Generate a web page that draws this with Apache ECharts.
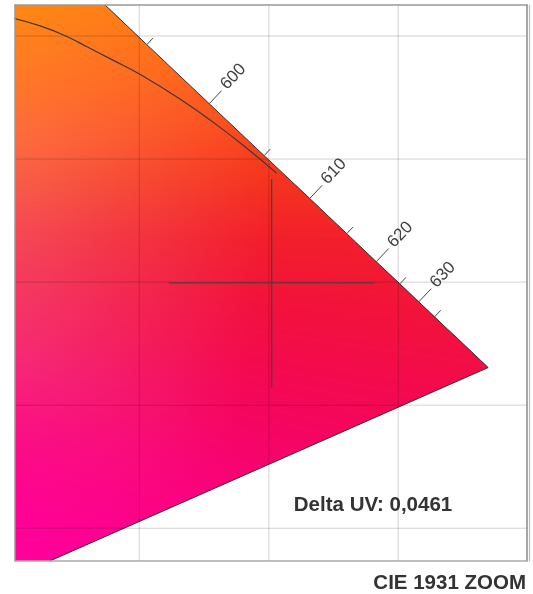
<!DOCTYPE html>
<html><head><meta charset="utf-8">
<script src="https://cdn.jsdelivr.net/npm/echarts@6/dist/echarts.min.js"></script>
<style>html,body{margin:0;padding:0;background:#fff}#c{width:533px;height:594px}</style>
</head><body><div id="c"></div>
<script>
// ---- data ----
// CIE 1931 2° spectral locus (nm, x, y); 380 closes the line of purples
const locusNm = [500, 520, 540, 560, 570, 580, 585, 590, 595, 600, 605, 610, 615, 620, 625, 630, 635, 640, 645, 650, 655, 660, 665, 670, 680, 690, 700, 380];
const locusX  = [0.0082, 0.0743, 0.2296, 0.3731, 0.4441, 0.5125, 0.5448, 0.5752, 0.6029, 0.6270, 0.6482, 0.6658, 0.6801, 0.6915, 0.7006, 0.7079, 0.7140, 0.7190, 0.7230, 0.7260, 0.7283, 0.7300, 0.7311, 0.7320, 0.7334, 0.7344, 0.7347, 0.1741];
const locusY  = [0.5384, 0.8338, 0.7543, 0.6245, 0.5547, 0.4866, 0.4544, 0.4242, 0.3965, 0.3725, 0.3514, 0.3340, 0.3197, 0.3083, 0.2993, 0.2920, 0.2859, 0.2809, 0.2770, 0.2740, 0.2717, 0.2700, 0.2689, 0.2680, 0.2666, 0.2656, 0.2653, 0.0050];
const tickNm  = [595, 600, 605, 610, 615, 620, 625, 630, 635];
const labelNm = [600, 610, 620, 630];
// Planckian locus
const planckX = [0.6530, 0.6427, 0.6300, 0.6157, 0.6002, 0.5900, 0.5800, 0.5720, 0.5620, 0.5500];
const planckY = [0.3443, 0.3534, 0.3638, 0.3744, 0.3845, 0.3901, 0.3955, 0.3998, 0.4040, 0.4076];
// measured point + crosshair
const pointX = 0.6511, pointY = 0.2997;
const crossX = [0.6114, 0.6908];
const crossY = [0.2570, 0.3418];
const deltaUV = '0,0461';
// axes / grid
const xRange = [0.5520, 0.7497];
const yRange = [0.1867, 0.4126];
const gridX = [0.60, 0.65, 0.70];
const gridY = [0.20, 0.25, 0.30, 0.35, 0.40];
const whitePoint = [0.3127, 0.3290];

// ---- style tables (colour of the diagram by direction seen from the white point) ----
const hueDeg   = [-22, -18, -14, -10, -6, -2, 2, 6, 10, 14, 18, 22, 26, 30];
const hueCol   = ['#ff8c0a', '#ff840e', '#ff7412', '#ff6216', '#fb4c1a', '#f5341f', '#f21e2c', '#f2123c', '#f30a4e', '#f50562', '#f90276', '#fc0086', '#ff0094', '#ff009e'];
const hueWhite = [0.02, 0.03, 0.06, 0.10, 0.15, 0.17, 0.17, 0.16, 0.15, 0.13, 0.08, 0.04, 0.01, 0];

const FONT = '"Liberation Sans", Arial, Helvetica, sans-serif';
const chart = echarts.init(document.getElementById('c'), null, {renderer: 'canvas'});

function hex(h) { return [parseInt(h.slice(1, 3), 16), parseInt(h.slice(3, 5), 16), parseInt(h.slice(5, 7), 16)]; }
function lookup(deg) {
  let i = 0;
  if (deg <= hueDeg[0]) return {c: hex(hueCol[0]), w: hueWhite[0]};
  if (deg >= hueDeg[hueDeg.length - 1]) return {c: hex(hueCol[hueCol.length - 1]), w: hueWhite[hueWhite.length - 1]};
  while (hueDeg[i + 1] < deg) i++;
  const t = (deg - hueDeg[i]) / (hueDeg[i + 1] - hueDeg[i]);
  const a = hex(hueCol[i]), b = hex(hueCol[i + 1]);
  return {c: a.map((v, k) => v + (b[k] - v) * t), w: hueWhite[i] + (hueWhite[i + 1] - hueWhite[i]) * t};
}
function mix(c, w) {
  return 'rgb(' + c.map(v => Math.round(v + (255 - v) * w)).join(',') + ')';
}

function fillItem(params, api) {
  const pts = locusX.map((x, i) => api.coord([x, locusY[i]]));
  const cs = params.coordSys;
  const W = api.coord(whitePoint);
  const corners = [[cs.x, cs.y], [cs.x + cs.width, cs.y], [cs.x, cs.y + cs.height], [cs.x + cs.width, cs.y + cs.height]];
  let amin = Infinity, amax = -Infinity, dmax = 0;
  corners.forEach(c => {
    const a = Math.atan2(c[1] - W[1], c[0] - W[0]);
    amin = Math.min(amin, a); amax = Math.max(amax, a);
    dmax = Math.max(dmax, Math.hypot(c[0] - W[0], c[1] - W[1]));
  });
  const R = dmax * 1.05;
  const dl = cs.x - W[0];
  const step = 0.25 * Math.PI / 180;
  const wedges = [];
  for (let a = amin - 2 * step; a < amax + 2 * step; a += step) {
    const deg = (a + step / 2) * 180 / Math.PI;
    const h = lookup(deg);
    const a1 = a + step * 1.7;
    const far = 2 * R;
    wedges.push({
      type: 'polygon',
      shape: {points: [W, [W[0] + far * Math.cos(a), W[1] + far * Math.sin(a)], [W[0] + far * Math.cos(a1), W[1] + far * Math.sin(a1)]]},
      style: {fill: {
        type: 'radial', global: true, x: W[0], y: W[1], r: R,
        colorStops: [
          {offset: 0, color: mix(h.c, Math.min(1, h.w * 3))},
          {offset: dl * 0.9 / R, color: mix(h.c, h.w * 1.3)},
          {offset: dl * 1.05 / R, color: mix(h.c, h.w)},
          {offset: dl * 1.4 / R, color: mix(h.c, 0)},
          {offset: 1, color: mix(h.c, 0)}
        ]
      }}
    });
  }
  return {
    type: 'group',
    children: [
      {type: 'group', clipPath: {type: 'polygon', shape: {points: pts}}, children: wedges},
      {type: 'polygon', shape: {points: pts}, style: {fill: null, stroke: '#333', lineWidth: 1}}
    ]
  };
}

function gridItem(params, api) {
  const cs = params.coordSys;
  const children = [];
  gridX.forEach(v => {
    const p = api.coord([v, yRange[0]]);
    children.push({type: 'line', shape: {x1: p[0], y1: cs.y, x2: p[0], y2: cs.y + cs.height},
      style: {stroke: 'rgba(0,0,0,0.15)', lineWidth: 1.2}});
  });
  gridY.forEach(v => {
    const p = api.coord([xRange[0], v]);
    children.push({type: 'line', shape: {x1: cs.x, y1: p[1], x2: cs.x + cs.width, y2: p[1]},
      style: {stroke: 'rgba(0,0,0,0.18)', lineWidth: 1}});
  });
  return {type: 'group', children};
}

function tickItem(params, api) {
  const nm = api.value(2);
  const i = locusNm.indexOf(nm);
  const p = api.coord([locusX[i], locusY[i]]);
  const a = api.coord([locusX[i - 1], locusY[i - 1]]);
  const b = api.coord([locusX[i + 1], locusY[i + 1]]);
  let tx = b[0] - a[0], ty = b[1] - a[1];
  const L = Math.hypot(tx, ty); tx /= L; ty /= L;
  const nx = ty, ny = -tx;
  const major = labelNm.indexOf(nm) >= 0;
  const len = major ? 18 : 9;
  const children = [{type: 'line', shape: {x1: p[0], y1: p[1], x2: p[0] + nx * len, y2: p[1] + ny * len},
    style: {stroke: '#444', lineWidth: 1}}];
  if (major) {
    const g = len + 4;
    children.push({type: 'text', x: p[0] + nx * g - tx * 1, y: p[1] + ny * g - ty * 1,
      rotation: Math.atan2(-ny, nx),
      style: {text: String(nm), fontSize: 17, fontFamily: FONT, fill: '#404040', align: 'left', verticalAlign: 'middle'}});
  }
  return {type: 'group', children};
}

const axisCommon = {type: 'value', min: xRange[0], max: xRange[1], axisTick: {show: false}, axisLabel: {show: false}, splitLine: {show: false}, z: 8};
const yCommon = {type: 'value', min: yRange[0], max: yRange[1], axisTick: {show: false}, axisLabel: {show: false}, splitLine: {show: false}, z: 8};

const option = {
  animation: false,
  title: {text: 'CIE 1931 ZOOM', right: 7, top: 573, padding: 0,
    textStyle: {fontSize: 20.5, fontWeight: 'bold', color: '#333', fontFamily: FONT}},
  grid: {left: 15, right: 6, top: 5, bottom: 33},
  xAxis: [
    Object.assign({}, axisCommon, {position: 'bottom', axisLine: {show: true, onZero: false, lineStyle: {color: '#aaa', width: 1.5}}}),
    Object.assign({}, axisCommon, {position: 'top', axisLine: {show: true, onZero: false, lineStyle: {color: '#999', width: 1.5}}})
  ],
  yAxis: [
    Object.assign({}, yCommon, {position: 'left', axisLine: {show: true, onZero: false, lineStyle: {color: '#999', width: 1.5}}}),
    Object.assign({}, yCommon, {position: 'right', axisLine: {show: true, onZero: false, lineStyle: {color: '#888', width: 1.5}}}),
    Object.assign({}, yCommon, {position: 'right', offset: 2, axisLine: {show: true, onZero: false, lineStyle: {color: '#bbb', width: 1.2}}})
  ],
  graphic: [{
    type: 'text', x: 373, y: 505, z: 20,
    style: {text: 'Delta UV: ' + deltaUV, font: 'bold 20.5px ' + FONT, fill: '#333', align: 'center', verticalAlign: 'middle'}
  }],
  series: [
    {type: 'custom', name: 'fill', renderItem: fillItem, data: [[locusX[0], locusY[0]]], clip: true, z: 1, silent: true},
    {type: 'custom', name: 'grid', renderItem: gridItem, data: [[gridX[0], gridY[0]]], clip: true, z: 3, silent: true},
    {type: 'custom', name: 'ticks', renderItem: tickItem, clip: false, z: 4, silent: true,
      data: tickNm.map(nm => { const i = locusNm.indexOf(nm); return [locusX[i], locusY[i], nm]; })},
    {type: 'line', name: 'planck', data: planckX.map((x, i) => [x, planckY[i]]), symbol: 'none', smooth: true,
      lineStyle: {color: '#3a3a3a', width: 1.2}, clip: true, z: 5, silent: true},
    {type: 'line', name: 'crossH', data: crossX.map(x => [x, pointY]), symbol: 'none',
      lineStyle: {color: '#444', width: 1.3}, z: 5, silent: true},
    {type: 'line', name: 'crossV', data: crossY.map(y => [pointX, y]), symbol: 'none',
      lineStyle: {color: '#444', width: 1.3}, z: 5, silent: true}
  ]
};
chart.setOption(option);
</script>
</body></html>
